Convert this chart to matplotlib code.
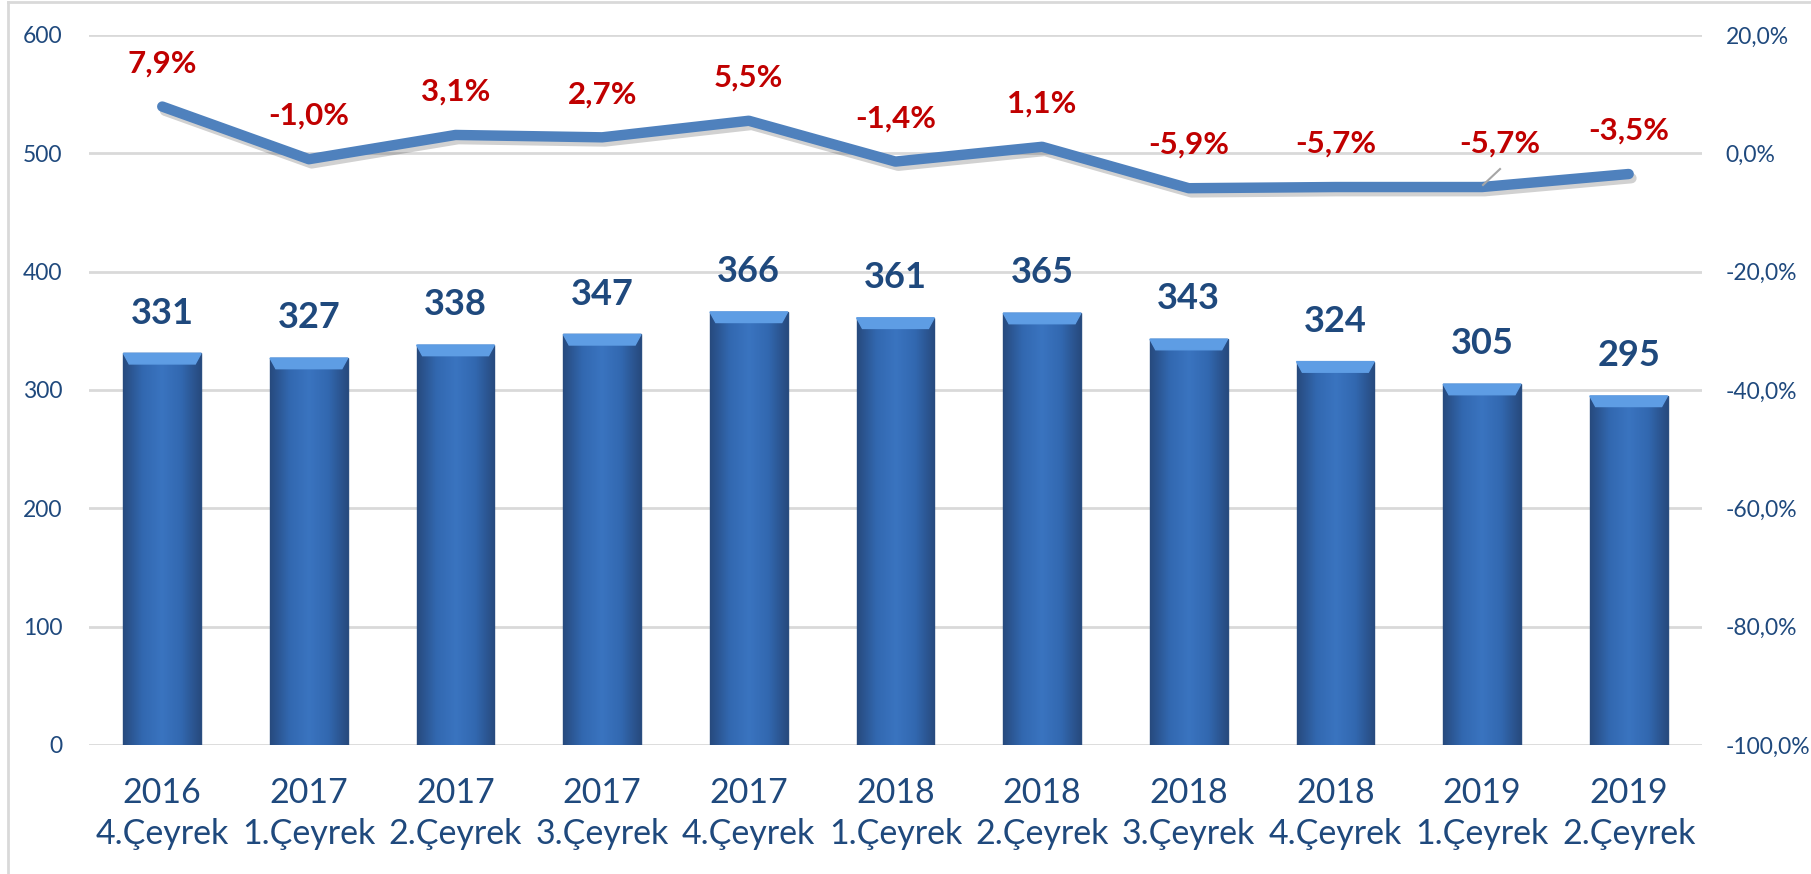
import numpy as np
import matplotlib
matplotlib.use("Agg")
import matplotlib.pyplot as plt
from matplotlib import patheffects as pe
from matplotlib.colors import LinearSegmentedColormap
from matplotlib.patches import Polygon
from matplotlib.lines import Line2D

years = ["2016", "2017", "2017", "2017", "2017", "2018", "2018", "2018", "2018", "2019", "2019"]
quarters = ["4.Çeyrek", "1.Çeyrek", "2.Çeyrek", "3.Çeyrek", "4.Çeyrek", "1.Çeyrek",
            "2.Çeyrek", "3.Çeyrek", "4.Çeyrek", "1.Çeyrek", "2.Çeyrek"]
values = [331, 327, 338, 347, 366, 361, 365, 343, 324, 305, 295]
changes = [7.9, -1.0, 3.1, 2.7, 5.5, -1.4, 1.1, -5.9, -5.7, -5.7, -3.5]

left_ticks = [0, 100, 200, 300, 400, 500, 600]
right_ticks = [-100, -80, -60, -40, -20, 0, 20]

plt.rcParams['font.family'] = ['Lato', 'DejaVu Sans']
blue_txt = "#1F497D"

fig = plt.figure(figsize=(18.11, 8.74), dpi=100)
ax = fig.add_axes([0.0491, 0.1476, 0.8907, 0.8124])

x = np.arange(len(values))
bars = ax.bar(x, values, width=0.53, color="#3567AA", edgecolor="#2A4E80",
              linewidth=1, zorder=2)

# horizontal shading on the bars + light bevel on top
cmap = LinearSegmentedColormap.from_list(
    "bar", ["#274A7E", "#3268B0", "#3A74C0", "#3268B0", "#274A7E"])
grad = np.linspace(0, 1, 256).reshape(1, -1)
for b in bars:
    x0, w, h = b.get_x(), b.get_width(), b.get_height()
    im = ax.imshow(grad, cmap=cmap, extent=[x0, x0 + w, 0, h],
                   aspect="auto", zorder=2.5)
    im.set_clip_path(b)
    bev = Polygon([(x0, h), (x0 + w, h), (x0 + w - 0.04, h - 9), (x0 + 0.04, h - 9)],
                  closed=True, color="#5E9DE4", zorder=3)
    ax.add_patch(bev)

for xi, v in zip(x, values):
    ax.annotate(str(v), (xi, v), xytext=(0, 17), textcoords="offset points",
                ha="center", va="bottom", fontsize=26, fontweight="bold",
                color=blue_txt, zorder=5)

ax.set_xlim(-0.5, len(values) - 0.5)
ax.set_ylim(0, 600)
ax.set_yticks(left_ticks)
ax.set_xticks(x)
ax.set_xticklabels([f"{y}\n{q}" for y, q in zip(years, quarters)],
                   fontsize=24.5, color=blue_txt, linespacing=1.35)
ax.tick_params(axis="x", length=0, pad=23)
ax.tick_params(axis="y", length=0, pad=19, labelsize=16.5, labelcolor=blue_txt)
ax.yaxis.grid(True, color="#D9D9D9", lw=2)
ax.set_axisbelow(True)
for s in ax.spines.values():
    s.set_visible(False)

ax2 = ax.twinx()
ax2.set_ylim(-100, 20)
ax2.set_yticks(right_ticks)
ax2.set_yticklabels([f"{t:.1f}".replace(".", ",") + "%" for t in right_ticks])
ax2.tick_params(axis="y", length=0, pad=17, labelsize=16.5, labelcolor=blue_txt)
for s in ax2.spines.values():
    s.set_visible(False)

ax2.plot(x, changes, color="#4F81BD", lw=7.5, solid_capstyle="round",
         solid_joinstyle="round", zorder=4,
         path_effects=[pe.SimpleLineShadow(offset=(2, -3), alpha=0.18), pe.Normal()])

for i, (xi, c) in enumerate(zip(x, changes)):
    lab = f"{c:.1f}".replace(".", ",") + "%"
    dx = 13 if i == 9 else 0
    ax2.annotate(lab, (xi, c), xytext=(dx, 21), textcoords="offset points",
                 ha="center", va="bottom", fontsize=22.5, fontweight="bold",
                 color="#C00000", zorder=6)

# leader line for the crowded label
xa, ya = ax2.transData.transform((x[9], changes[9]))
ln = Line2D([xa + 1, xa + 18], [ya + 2, ya + 18], color="#A6A6A6", lw=1.5,
            transform=None, zorder=5)
fig.add_artist(ln)

# outer frame of the chart
fig.add_artist(Line2D([8 / 1811, 8 / 1811], [0, 0.998], color="#D9D9D9", lw=2,
                      transform=fig.transFigure))
fig.add_artist(Line2D([8 / 1811, 1], [0.998, 0.998], color="#D9D9D9", lw=2,
                      transform=fig.transFigure))

fig.savefig("out.png", dpi=100)
